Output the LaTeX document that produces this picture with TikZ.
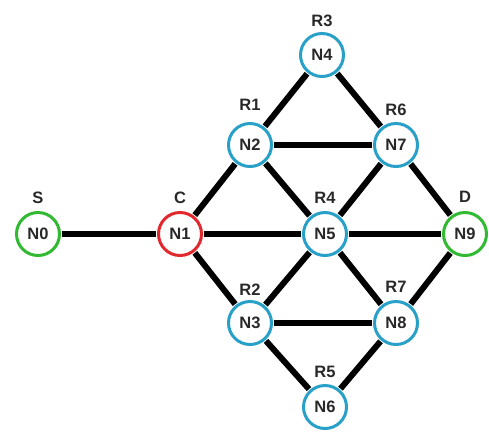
\documentclass[tikz,border=0pt]{standalone}
\usepackage{fontspec}
\setmainfont{Liberation Sans}
\definecolor{nblue}{RGB}{40,160,200}
\definecolor{ngreen}{RGB}{50,185,50}
\definecolor{nred}{RGB}{225,40,45}
\definecolor{ntext}{RGB}{40,40,40}
\begin{document}
\begin{tikzpicture}[x=1pt,y=-1pt,
  nd/.style={circle,draw=nblue,line width=3pt,fill=white,minimum size=43pt,inner sep=0pt,
    font=\fontsize{16.5}{17}\selectfont\bfseries,text=ntext},
  lab/.style={font=\fontsize{16.5}{17}\selectfont\bfseries,text=ntext,inner sep=0pt},
  ed/.style={line width=6pt,black}]
\useasboundingbox (0,0) rectangle (489,432);
\node[nd,draw=ngreen] (n0) at (38,234) {N0};
\node[nd,draw=nred] (n1) at (180,234) {N1};
\node[nd] (n2) at (250,145) {N2};
\node[nd] (n3) at (250,323) {N3};
\node[nd] (n4) at (322,55) {N4};
\node[nd] (n5) at (325,234) {N5};
\node[nd] (n6) at (325,407) {N6};
\node[nd] (n7) at (396,145) {N7};
\node[nd] (n8) at (396,323) {N8};
\node[nd,draw=ngreen] (n9) at (465,234) {N9};
\node[lab] (ls) at (38,198) {S};
\node[lab] (lc) at (180,198) {C};
\node[lab] (l1) at (250,105) {R1};
\node[lab] (l2) at (250,290) {R2};
\node[lab] (l3) at (322,21) {R3};
\node[lab] (l4) at (325,198) {R4};
\node[lab] (l5) at (325,372) {R5};
\node[lab] (l6) at (396,110) {R6};
\node[lab] (l7) at (396,287) {R7};
\node[lab] (ld) at (465,197) {D};
\foreach \a/\b in {n0/n1,n1/n2,n1/n3,n1/n5,n2/n4,n2/n7,n2/n5,n4/n7,n7/n5,n7/n9,n5/n9,n5/n3,n5/n8,n3/n8,n3/n6,n6/n8,n8/n9}
  \draw[ed,shorten <=1pt,shorten >=1pt] (\a) -- (\b);
\end{tikzpicture}
\end{document}
